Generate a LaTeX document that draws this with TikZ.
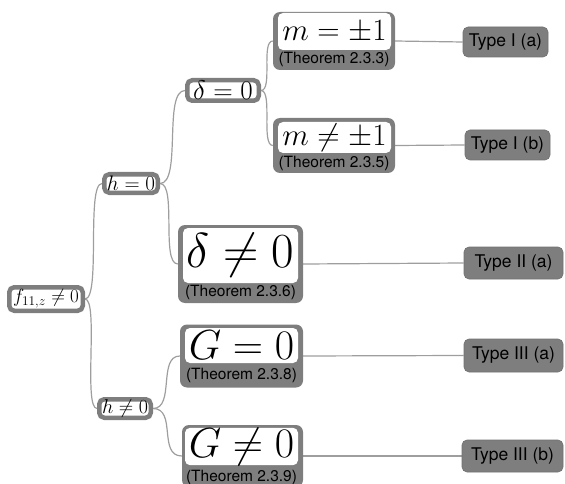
\RequirePackage{fix-cm}
\documentclass[tikz,border=0pt]{standalone}
\usepackage{fontspec}
\newfontfamily\helv{TeX Gyre Heros}
\usetikzlibrary{backgrounds}

\definecolor{boxgray}{RGB}{126,126,126}
\definecolor{boxedge}{RGB}{112,112,112}
\definecolor{linegray}{RGB}{158,158,158}

\tikzset{
  x=1pt, y=-1pt,
  cond/.style={draw=boxgray, line width=4.5pt, fill=white, rounded corners=5pt, inner sep=0pt},
  panel/.style={fill=boxgray, rounded corners=7pt, inner sep=0pt},
  mathbox/.style={fill=white, rounded corners=5pt, inner sep=0pt},
  thm/.style={font=\helv\fontsize{15.5}{16}\selectfont, inner sep=0pt},
  typebox/.style={fill=boxgray, draw=boxedge, line width=0.6pt, rounded corners=5pt,
    inner sep=0pt, font=\helv\fontsize{17.5}{19}\selectfont},
  link/.style={draw=linegray, line width=1.2pt},
}

\begin{document}
\begin{tikzpicture}
\useasboundingbox (0,0) rectangle (565,484);
\clip (0,0) rectangle (565,484);

% small condition boxes
\node[cond, minimum width=73.5pt, minimum height=23.5pt, font=\fontsize{19}{20}\selectfont]
  (root) at (46,299) {$f_{11,z}\neq0$};
\node[cond, minimum width=53.5pt, minimum height=18.5pt, font=\fontsize{21}{22}\selectfont]
  (h0) at (131,183.5) {$h=0$};
\node[cond, minimum width=51.5pt, minimum height=18.5pt, font=\fontsize{20}{21}\selectfont]
  (hn) at (125,408.5) {$h\neq0$};
\node[cond, minimum width=71.5pt, minimum height=20.5pt, font=\fontsize{27}{28}\selectfont]
  (d0) at (223,90.5) {$\delta=0$};

% panels with theorem references
\node[panel, minimum width=122pt, minimum height=58pt] (m1) at (334,41) {};
\node[mathbox, minimum width=113pt, minimum height=37pt, font=\fontsize{31}{33}\selectfont]
  (m1x) at (334.5,31.5) {$m=\pm1$};
\node[thm] (m1t) at (334,59) {(Theorem 2.3.3)};

\node[panel, minimum width=122pt, minimum height=55pt] (mn) at (334,145.5) {};
\node[mathbox, minimum width=113pt, minimum height=31pt, font=\fontsize{31}{33}\selectfont]
  (mnx) at (334.5,137.5) {$m\neq\pm1$};
\node[thm] (mnt) at (334,163) {(Theorem 2.3.5)};

\node[panel, minimum width=125pt, minimum height=78pt] (dn) at (240.5,264) {};
\node[mathbox, minimum width=115pt, minimum height=55pt, font=\fontsize{49}{51}\selectfont]
  (dnx) at (240.5,255.5) {$\delta\neq0$};
\node[thm] (dnt) at (240.5,292) {(Theorem 2.3.6)};

\node[panel, minimum width=123pt, minimum height=63pt] (g0) at (241.5,356) {};
\node[mathbox, minimum width=113pt, minimum height=35pt, font=\fontsize{42}{44}\selectfont]
  (g0x) at (241.5,345.5) {$G=0$};
\node[thm] (g0t) at (241.5,375) {(Theorem 2.3.8)};

\node[panel, minimum width=121pt, minimum height=62pt] (gn) at (242.5,456) {};
\node[mathbox, minimum width=113pt, minimum height=37pt, font=\fontsize{42}{44}\selectfont]
  (gnx) at (241.5,446.5) {$G\neq0$};
\node[thm] (gnt) at (241.5,477) {(Theorem 2.3.9)};

% resulting types
\node[typebox, minimum width=85pt, minimum height=30pt] (t1a) at (505.5,42) {Type I (a)};
\node[typebox, minimum width=85pt, minimum height=30pt] (t1b) at (507.5,145) {Type I (b)};
\node[typebox, minimum width=99pt, minimum height=32pt] (t2a) at (513.5,263) {Type II (a)};
\node[typebox, minimum width=99pt, minimum height=33pt] (t3a) at (513.5,355.5) {Type III (a)};
\node[typebox, minimum width=101pt, minimum height=32pt] (t3b) at (512.5,456) {Type III (b)};

% connectors
\begin{scope}[on background layer]
  \draw[link] (root.east) .. controls +(16,0) and +(-16,0) .. (h0.west);
  \draw[link] (root.east) .. controls +(14,0) and +(-14,0) .. (hn.west);
  \draw[link] (h0.east) .. controls +(22,0) and +(-22,0) .. (d0.west);
  \draw[link] (h0.east) .. controls +(17,0) and +(-17,0) .. (dn.west);
  \draw[link] (hn.east) .. controls +(22,0) and +(-22,0) .. (g0.west);
  \draw[link] (hn.east) .. controls +(24,0) and +(-24,0) .. (gn.west);
  \draw[link] (d0.east) .. controls +(12,0) and +(-12,0) .. (m1.west);
  \draw[link] (d0.east) .. controls +(12,0) and +(-12,0) .. (mn.west);
  \draw[link] (m1.east) -- (t1a.west);
  \draw[link] (mn.east) -- (t1b.west);
  \draw[link] (dn.east) -- (t2a.west);
  \draw[link] (g0.east) -- (t3a.west);
  \draw[link] (gn.east) -- (t3b.west);
\end{scope}
\end{tikzpicture}
\end{document}
